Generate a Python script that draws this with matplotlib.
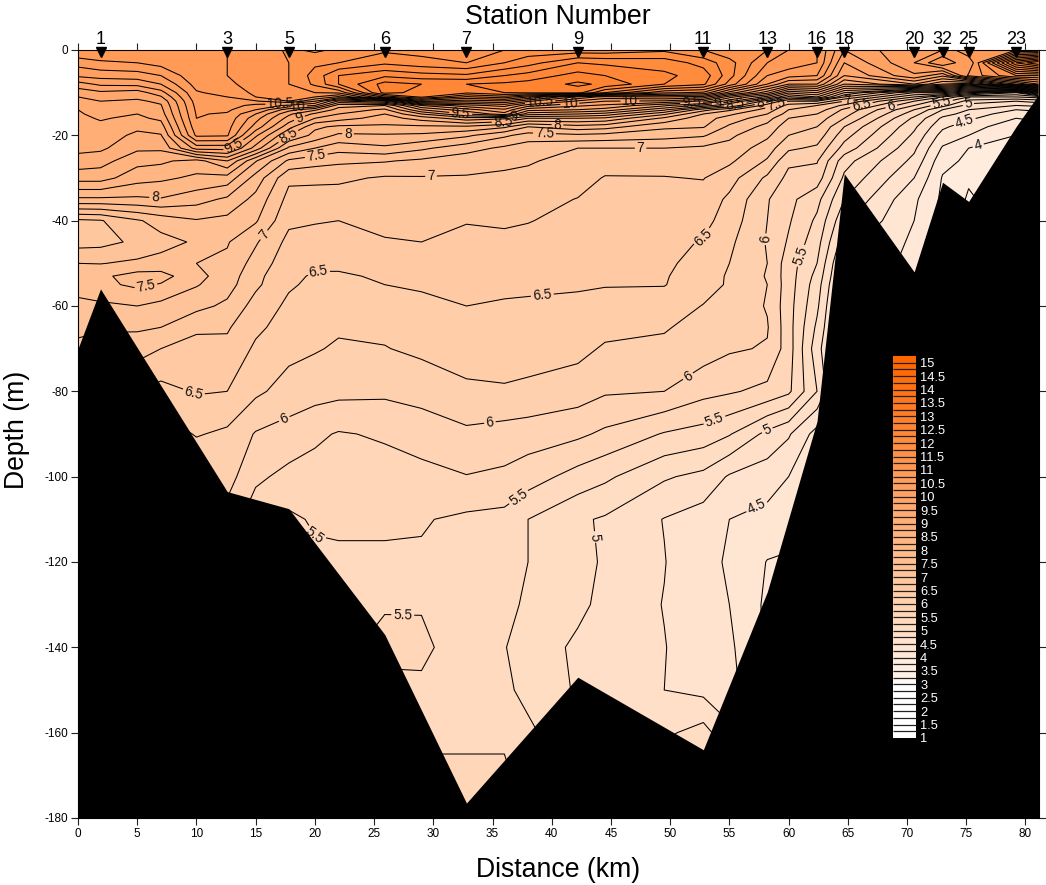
import numpy as np
import matplotlib
matplotlib.use("Agg")
import matplotlib.pyplot as plt
from matplotlib.colors import LinearSegmentedColormap
from matplotlib.transforms import ScaledTranslation

plt.rcParams['font.family'] = ['Liberation Sans', 'DejaVu Sans']
plt.rcParams['axes.unicode_minus'] = False

stations = ['1', '3', '5', '6', '7', '9', '11', '13', '16', '18', '20', '32', '25', '23']
station_km = [1.9, 12.6, 17.8, 25.9, 32.8, 42.2, 52.8, 58.2, 62.4, 64.7, 70.6, 73.0, 75.2, 79.2]

bottom_km = [0, 1.9, 12.6, 17.8, 25.9, 32.8, 42.2, 52.8, 58.2, 62.4, 64.7, 70.6, 73.0, 75.2, 79.2, 81.1]
bottom_depth = [-70, -56, -103.5, -107.5, -137, -176.5, -147, -164, -127, -87, -29, -52, -31, -35.5, -18, -10.5]

depth = [0, 3, 6, 8, 10, 11, 12, 13, 14, 15, 16, 18, 20, 23, 26, 30,
         35, 40, 45, 50, 53, 55, 60, 65, 70,
         80, 90, 100, 110, 120, 130, 140, 150, 160, 170, 180]
grid_km = [0, 1.9, 5, 7, 10, 12.6, 15, 17.8, 20, 22, 25.9, 29, 32.8, 36, 38, 42.2, 44.5, 49.5, 52.8, 55, 58.2, 60, 62.4, 64.7, 70.6, 73.0, 75.2, 79.2, 81.1]

t_000 = [11, 10.6, 10.3, 9.9, 9.6, 9.5, 9.43, 9.35, 9.25, 9.23, 9.2, 9.17, 9.13, 9.07, 8.9, 8.6,
         7.95, 6.95, 6.9, 7.25, 7.35, 7.4, 7.15, 7.05, 6.95,
         6.8, 6.7, 6.6, 6.5, 6.4, 6.3, 6.2, 6.1, 6.0, 5.9, 5.8]
t_019 = [11, 10.7, 10.35, 10.05, 9.7, 9.6, 9.5, 9.42, 9.35, 9.3, 9.27, 9.2, 9.12, 9.05, 8.85, 8.6,
         7.95, 6.98, 6.92, 7.24, 7.45, 7.44, 7.2, 7.03, 6.9,
         6.7, 6.5, 6.3, 6.2, 6.1, 6.0, 5.9, 5.8, 5.7, 5.6, 5.5]
t_050 = [11, 10.75, 10.38, 10.08, 9.63, 9.55, 9.46, 9.38, 9.32, 9.25, 9.2, 9.05, 8.95, 8.8, 8.58, 8.35,
         7.95, 7.22, 7.05, 7.3, 7.6, 7.55, 7.25, 7.04, 6.85,
         6.5, 6.3, 6.1, 6.0, 5.9, 5.8, 5.7, 5.6, 5.5, 5.4, 5.3]
t_070 = [11, 10.85, 10.5, 10.25, 9.9, 9.72, 9.55, 9.48, 9.43, 9.38, 9.3, 9.13, 8.98, 8.8, 8.55, 8.3,
         7.98, 7.35, 7.17, 7.33, 7.6, 7.48, 7.18, 7.0, 6.75,
         6.42, 6.1, 5.85, 5.8, 5.7, 5.6, 5.5, 5.4, 5.3, 5.2, 5.1]
t_100 = [11, 11, 10.95, 10.85, 10.72, 10.68, 10.62, 10.58, 10.55, 10.52, 10.5, 10.42, 10.3, 9.6, 8.4, 8.2,
         7.85, 7.48, 7.28, 7.25, 7.32, 7.27, 7.07, 6.8, 6.65,
         6.52, 6.27, 6.0, 5.9, 5.8, 5.7, 5.6, 5.5, 5.4, 5.3, 5.2]
t_126 = [11, 11, 11, 10.95, 10.85, 10.75, 10.68, 10.62, 10.55, 10.47, 10.42, 10.35, 10.28, 9.6, 8.75, 8.15,
         7.7, 7.43, 7.27, 7.2, 7.14, 7.1, 6.95, 6.78, 6.68,
         6.5, 6.2, 6.1, 5.9, 5.8, 5.7, 5.6, 5.5, 5.4, 5.3, 5.2]
t_150 = [11.05, 11.1, 11.1, 11.1, 11.05, 11.0, 10.72, 10.42, 10.25, 10.0, 9.85, 9.65, 9.3, 8.9, 8.02, 7.65,
         7.42, 7.28, 7.03, 6.9, 6.82, 6.8, 6.65, 6.55, 6.46,
         6.3, 5.98, 5.8, 5.6, 5.5, 5.4, 5.3, 5.2, 5.2, 5.2, 5.2]
t_178 = [11.3, 11.25, 11.25, 11.25, 11.25, 11.2, 11.0, 10.2, 9.6, 9.3, 9.15, 8.85, 8.5, 7.95, 7.45, 7.05,
         6.92, 6.8, 6.68, 6.6, 6.56, 6.53, 6.45, 6.4, 6.32,
         6.15, 5.9, 5.68, 5.45, 5.4, 5.4, 5.4, 5.4, 5.4, 5.4, 5.4]
t_200 = [11.2, 11.45, 11.6, 11.55, 11.25, 11.0, 10.5, 10.0, 9.3, 8.95, 8.75, 8.3, 8.17, 7.75, 7.35, 7.05,
         6.9, 6.77, 6.65, 6.55, 6.47, 6.45, 6.37, 6.3, 6.27,
         6.1, 5.8, 5.65, 5.53, 5.45, 5.4, 5.4, 5.4, 5.4, 5.4, 5.4]
t_220 = [11.3, 11.5, 12.0, 12.0, 11.3, 10.7, 9.7, 9.1, 8.9, 8.75, 8.6, 8.2, 7.95, 7.6, 7.3, 7.05,
         6.88, 6.75, 6.65, 6.55, 6.47, 6.43, 6.35, 6.28, 6.22,
         6.07, 5.73, 5.62, 5.53, 5.47, 5.42, 5.42, 5.42, 5.42, 5.42, 5.42]
t_259 = [11.45, 11.7, 12.2, 12.6, 12.6, 11.8, 10.0, 9.0, 8.7, 8.5, 8.4, 8.2, 7.97, 7.7, 7.27, 6.97,
         6.9, 6.82, 6.73, 6.6, 6.53, 6.5, 6.42, 6.3, 6.24,
         6.05, 5.78, 5.65, 5.53, 5.47, 5.47, 5.6, 5.4, 5.4, 5.4, 5.4]
t_290 = [11.4, 11.6, 12.1, 12.5, 12.4, 12.3, 11.3, 10.0, 9.5, 9.0, 8.6, 8.2, 7.95, 7.55, 7.2, 6.98,
         6.9, 6.82, 6.75, 6.63, 6.57, 6.53, 6.44, 6.36, 6.3,
         6.1, 5.85, 5.68, 5.52, 5.47, 5.48, 5.56, 5.45, 5.44, 5.56, 5.6]
t_328 = [11.3, 11.5, 12.05, 12.5, 12.3, 11.7, 11.1, 10.4, 9.9, 9.5, 8.9, 8.2, 7.8, 7.35, 7.1, 6.98,
         6.9, 6.76, 6.7, 6.6, 6.55, 6.53, 6.5, 6.42, 6.37,
         6.2, 5.95, 5.74, 5.45, 5.38, 5.35, 5.35, 5.35, 5.44, 5.56, 5.6]
t_360 = [11.5, 11.75, 12.25, 12.55, 12.5, 11.9, 11.2, 10.6, 10.2, 9.9, 8.8, 8.05, 7.55, 7.2, 7.05, 6.96,
         6.88, 6.78, 6.7, 6.63, 6.58, 6.56, 6.47, 6.43, 6.38,
         6.22, 5.9, 5.7, 5.42, 5.35, 5.3, 5.26, 5.3, 5.44, 5.56, 5.6]
t_380 = [11.6, 11.9, 12.35, 12.6, 12.55, 11.5, 10.8, 10.1, 9.6, 9.1, 8.5, 7.75, 7.4, 7.1, 7.02, 6.95,
         6.85, 6.76, 6.68, 6.6, 6.57, 6.55, 6.46, 6.42, 6.35,
         6.2, 5.87, 5.62, 5.25, 5.25, 5.22, 5.15, 5.18, 5.3, 5.35, 5.35]
t_422 = [11.6, 12.25, 12.6, 12.8, 12.6, 10.7, 10.2, 9.8, 9.5, 9.0, 8.5, 7.9, 7.45, 7.0, 6.93, 6.87,
         6.74, 6.68, 6.62, 6.57, 6.53, 6.52, 6.46, 6.38, 6.32,
         6.12, 5.8, 5.4, 5.04, 5.13, 5.06, 4.95, 4.97, 5.05, 5.1, 5.1]
t_445 = [11.6, 12.2, 12.5, 12.7, 12.0, 10.4, 10.0, 9.7, 9.4, 8.9, 8.45, 7.85, 7.42, 7.0, 6.88, 6.73,
         6.7, 6.65, 6.6, 6.55, 6.53, 6.51, 6.43, 6.32, 6.22,
         6.03, 5.7, 5.3, 4.97, 4.95, 4.93, 4.87, 4.85, 4.9, 5.0, 5.0]
t_495 = [11.7, 12.15, 12.3, 12.25, 11.3, 10.5, 9.95, 9.3, 8.8, 8.3, 7.95, 7.55, 7.35, 7.0, 6.84, 6.74,
         6.68, 6.62, 6.58, 6.54, 6.52, 6.51, 6.38, 6.27, 6.2,
         6.0, 5.48, 5.03, 4.74, 4.76, 4.74, 4.76, 4.75, 4.95, 5.2, 5.2]
t_528 = [11.5, 11.9, 12.15, 12.05, 11.2, 10.4, 9.7, 8.9, 8.1, 7.75, 7.6, 7.52, 7.28, 6.95, 6.9, 6.76,
         6.65, 6.58, 6.48, 6.42, 6.37, 6.35, 6.24, 6.17, 6.12,
         5.83, 5.4, 4.93, 4.63, 4.55, 4.58, 4.6, 4.68, 5.1, 5.3, 5.3]
t_550 = [11.3, 11.6, 11.6, 11.4, 10.4, 9.6, 9.1, 8.5, 7.8, 7.55, 7.4, 7.2, 7.05, 6.92, 6.8, 6.6,
         6.45, 6.38, 6.3, 6.25, 6.22, 6.22, 6.18, 6.1, 6.03,
         5.78, 5.27, 4.72, 4.5, 4.48, 4.5, 4.55, 4.6, 4.8, 4.9, 4.9]
t_582 = [11.25, 11.0, 10.75, 10.5, 9.6, 8.9, 8.1, 7.6, 7.4, 7.25, 7.1, 6.92, 6.8, 6.62, 6.47, 6.2,
         6.02, 6.0, 5.98, 6.0, 5.98, 6.0, 5.98, 6.02, 5.98,
         5.68, 4.93, 4.62, 4.42, 4.24, 4.2, 4.2, 4.2, 4.2, 4.2, 4.2]
t_600 = [11.0, 10.9, 10.6, 10.0, 8.8, 8.2, 7.5, 7.15, 7.0, 6.9, 6.75, 6.6, 6.5, 6.3, 6.05, 5.93,
         5.82, 5.78, 5.72, 5.62, 5.62, 5.62, 5.6, 5.6, 5.62,
         5.55, 4.78, 4.5, 4.35, 4.22, 4.2, 4.2, 4.2, 4.2, 4.2, 4.2]
t_624 = [10.75, 10.75, 10.5, 10.0, 9.0, 8.5, 7.5, 7.0, 6.9, 6.75, 6.65, 6.5, 6.4, 6.2, 6.02, 5.88,
         5.58, 5.45, 5.35, 5.25, 5.17, 5.12, 5.05, 4.95, 4.85,
         5.0, 4.4, 4.3, 4.2, 4.2, 4.2, 4.2, 4.2, 4.2, 4.2, 4.2]
t_647 = [10.0, 9.75, 9.5, 9.0, 8.0, 7.5, 7.0, 6.7, 6.45, 6.35, 6.25, 6.0, 5.85, 5.65, 5.35, 5.2,
         5.0, 4.8, 4.6, 4.4, 4.35, 4.3, 4.2, 4.2, 4.2,
         4.2, 4.2, 4.2, 4.2, 4.2, 4.2, 4.2, 4.2, 4.2, 4.2, 4.2]
t_706 = [10.5, 10.5, 10.2, 9.5, 7.0, 6.5, 6.0, 5.75, 5.5, 5.35, 5.2, 5.05, 4.95, 4.8, 4.68, 4.5,
         4.3, 4.25, 4.2, 4.2, 4.2, 4.2, 4.2, 4.2, 4.2,
         4.2, 4.2, 4.2, 4.2, 4.2, 4.2, 4.2, 4.2, 4.2, 4.2, 4.2]
t_730 = [10.5, 11.0, 9.8, 9.0, 7.0, 6.0, 5.6, 5.35, 5.0, 4.85, 4.7, 4.55, 4.4, 4.22, 4.08, 3.98,
         3.95, 3.9, 3.9, 3.9, 3.9, 3.9, 3.9, 3.9, 3.9,
         3.9, 3.9, 3.9, 3.9, 3.9, 3.9, 3.9, 3.9, 3.9, 3.9, 3.9]
t_752 = [11.0, 10.5, 10.8, 8.8, 6.5, 5.5, 5.15, 4.9, 4.75, 4.65, 4.55, 4.35, 4.25, 4.0, 3.95, 3.78,
         3.72, 3.7, 3.7, 3.7, 3.7, 3.7, 3.7, 3.7, 3.7,
         3.7, 3.7, 3.7, 3.7, 3.7, 3.7, 3.7, 3.7, 3.7, 3.7, 3.7]
t_792 = [11.0, 13.0, 11.5, 10.0, 6.0, 5.5, 5.0, 4.75, 4.5, 4.35, 4.25, 4.1, 4.0, 3.95, 3.9, 3.9,
         3.9, 3.9, 3.9, 3.9, 3.9, 3.9, 3.9, 3.9, 3.9,
         3.9, 3.9, 3.9, 3.9, 3.9, 3.9, 3.9, 3.9, 3.9, 3.9, 3.9]
t_811 = [11.0, 13.5, 11.5, 10.5, 7.0, 5.6, 5.1, 4.8, 4.55, 4.4, 4.3, 4.15, 4.0, 3.95, 3.9, 3.9,
         3.9, 3.9, 3.9, 3.9, 3.9, 3.9, 3.9, 3.9, 3.9,
         3.9, 3.9, 3.9, 3.9, 3.9, 3.9, 3.9, 3.9, 3.9, 3.9, 3.9]

levels = np.arange(1, 15.5, 0.25)
cbar_ticks = np.arange(1, 15.5, 0.5)

# contour label anchors: value -> (km, depth)
contour_labels = {
    10.5: [(17.1, -12.2), (39.0, -11.7)],
    10.0: [(18.5, -12.2), (46.6, -11.5), (41.5, -11.7)],
    9.5: [(13.2, -22.7), (32.3, -15.2), (51.8, -11.7)],
    9.0: [(18.4, -13.6), (54.0, -12.2), (36.8, -16.3)],
    8.5: [(17.7, -20.0), (35.9, -16.4), (55.5, -12.9)],
    8.0: [(22.8, -19.5), (6.5, -34.7), (40.5, -15.7), (57.6, -12.2)],
    7.5: [(20.1, -24.6), (5.7, -55.0), (39.4, -18.3), (59.0, -13.4)],
    7.0: [(29.8, -28.6), (15.4, -42.7), (47.5, -23.4), (65.0, -12.4)],
    6.5: [(20.3, -52.3), (9.5, -82.0), (39.2, -57.4), (53.0, -45.0), (66.2, -13.6)],
    6.0: [(17.5, -87.0), (34.8, -87.7), (51.7, -77.3), (58.5, -44.5), (68.7, -13.6)],
    5.5: [(37.0, -104.0), (19.7, -114.6), (27.4, -135.0), (53.9, -88.0), (61.1, -48.3), (72.9, -12.2)],
    5.0: [(44.2, -114.0), (58.1, -88.6), (75.2, -12.9)],
    4.5: [(57.3, -107.0), (74.9, -17.1)],
    4.0: [(76.0, -22.3)],
}

T = np.column_stack([t_000, t_019, t_050, t_070, t_100, t_126, t_150, t_178, t_200, t_220, t_259, t_290, t_328, t_360,
                     t_380, t_422, t_445, t_495, t_528, t_550, t_582, t_600, t_624, t_647, t_706, t_730, t_752, t_792, t_811])
Z = -np.array(depth, dtype=float)
X = np.array(grid_km, dtype=float)

W, H = 1046, 885
fig = plt.figure(figsize=(W / 100, H / 100), dpi=100)
ax = fig.add_axes([78 / W, 1 - 818 / H, (1038.5 - 78) / W, (818 - 50) / H])

cmap = LinearSegmentedColormap.from_list('orange', [
    (0.0, '#FFFFFF'), (0.02, '#FFF3E9'), (2 / 12, '#FFDEC6'), (4 / 12, '#FFC59B'), (8 / 12, '#FF9955'), (1.0, '#FF6600')])
cf = ax.contourf(X, Z, T, levels=levels, cmap=cmap, vmin=3, vmax=15, zorder=1)
plain_levels = [v for v in levels if v not in contour_labels]
ax.contour(X, Z, T, levels=plain_levels, colors='black', linewidths=0.75, zorder=2)
for val, pos in contour_labels.items():
    cs = ax.contour(X, Z, T, levels=[val], colors='black', linewidths=0.75, zorder=2)
    ax.clabel(cs, manual=pos, inline=True, inline_spacing=2, fontsize=9.8,
              fmt=lambda v: f'{v:g}', colors='#111111', zorder=3)

ax.fill_between(bottom_km, bottom_depth, -180, color='black', lw=0, zorder=4)

ax.set_xlim(0, 81.1)
ax.set_ylim(-180, 0)
ax.set_xticks(np.arange(0, 81, 5))
ax.set_yticks(np.arange(-180, 1, 20))
ax.tick_params(axis='both', labelsize=8.5, length=5, width=0.8, color='#222222', pad=2,
               top=True, right=True, labeltop=False, labelright=False)
for s in ax.spines.values():
    s.set_linewidth(0.8)
    s.set_zorder(6)
fig.text(558 / W, 1 - 870 / H, 'Distance (km)', ha='center', va='center', fontsize=19.2)
fig.text(17 / W, 1 - 430 / H, 'Depth (m)', ha='center', va='center', rotation=90, fontsize=19.2)

marker_shift = ax.transData + ScaledTranslation(0, -1.5 / 72, fig.dpi_scale_trans)
ax.plot(station_km, [0] * len(station_km), ls='none', marker='v', ms=7.5, color='black',
        clip_on=False, zorder=7, transform=marker_shift)
for name, km in zip(stations, station_km):
    ax.annotate(name, (km, 0), xytext=(0, 1.5), textcoords='offset points', ha='center',
                va='bottom', fontsize=13, annotation_clip=False)
fig.text(558 / W, 1 - 17.5 / H, 'Station Number', ha='center', va='center', fontsize=19.3)

cax = fig.add_axes([893 / W, 1 - 738 / H, 23 / W, 382 / H], zorder=8)
cbar = fig.colorbar(cf, cax=cax, drawedges=True, ticks=cbar_ticks)
cbar.dividers.set_color('#222222')
cbar.dividers.set_linewidth(0.9)
cbar.outline.set_visible(False)
cbar.ax.set_yticklabels([f'{v:g}' for v in cbar_ticks], color='white', fontsize=9.3)
cbar.ax.tick_params(length=0, pad=3)

fig.savefig('out.png', dpi=100)
